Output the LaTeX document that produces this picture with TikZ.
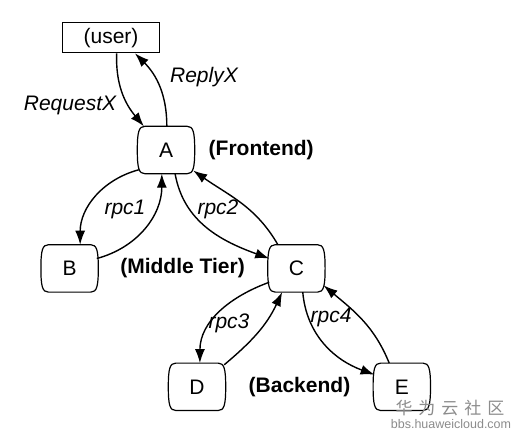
\documentclass[tikz,border=0pt]{standalone}
\usepackage{fontspec}
\setmainfont{Liberation Sans}
\newfontfamily\cjkfont{Noto Sans CJK SC}
\usepackage{tikz}
\usetikzlibrary{arrows.meta, positioning}
\tikzstyle{pointer} = [line width=1.4pt, -{Latex[length=14pt, width=10pt]}]

\begin{document}
\begin{tikzpicture}[
	x=1pt, y=1pt,
	font=\fontsize{21}{24}\selectfont,
	tiernode/.style={minimum width=54pt, minimum height=47pt, inner sep=0pt},
	tierborder/.style={line width=1.2pt},
	usernode/.style={draw, line width=1.1pt, minimum width=97pt, minimum height=30pt, inner sep=0pt},
	calllabel/.style={font=\fontsize{21}{24}\selectfont\itshape},
	tierlabel/.style={font=\fontsize{21}{24}\selectfont\bfseries},
	watermark/.style={text=black!45, inner sep=0pt}
]
\useasboundingbox (0,0) rectangle (518,-439);

\node[tiernode] (A) at (166,-150) {A};
\node[usernode, above=73pt of A, xshift=-55pt] (user) {(user)};
\node[tiernode, below left=71pt and 42pt of A] (B) {B};
\node[tiernode, below right=71pt and 76pt of A] (C) {C};
\node[tiernode, below left=71pt and 45pt of C] (D) {D};
\node[tiernode, below right=71pt and 51pt of C] (E) {E};

% boxes with slightly bulging sides
\foreach \n in {A,B,C,D,E}
	\draw[tierborder] ([xshift=6pt]\n.north west) -- ([xshift=-6pt]\n.north east)
		.. controls ([xshift=0pt]\n.north east) and ([xshift=1.5pt,yshift=18pt]\n.east) .. ([xshift=1.5pt]\n.east)
		.. controls ([xshift=1.5pt,yshift=-18pt]\n.east) and ([xshift=0pt]\n.south east) .. ([xshift=-6pt]\n.south east)
		-- ([xshift=6pt]\n.south west)
		.. controls ([xshift=0pt]\n.south west) and ([xshift=-1.5pt,yshift=-18pt]\n.west) .. ([xshift=-1.5pt]\n.west)
		.. controls ([xshift=-1.5pt,yshift=18pt]\n.west) and ([xshift=0pt]\n.north west) .. cycle;

\node[tierlabel, right=12pt of A] (front) {(Frontend)};
\node[tierlabel, right=20pt of B] (middle) {(Middle Tier)};
\node[tierlabel, right=21pt of D] (back) {(Backend)};

\node[calllabel] (req) at (70,-105) {RequestX};
\node[calllabel] (rep) at (204,-77) {ReplyX};
\node[calllabel] (rpc1) at (125,-209) {rpc1};
\node[calllabel] (rpc2) at (218,-209) {rpc2};
\node[calllabel] (rpc3) at (229,-323) {rpc3};
\node[calllabel] (rpc4) at (331,-317) {rpc4};

\draw[pointer] (user.290) to[out=-92, in=130] (A.133);
\draw[pointer] (A.88) to[out=90, in=-45] (user.327);
\draw[pointer] (A.216) to[out=195, in=90] (B.66);
\draw[pointer] (B.20) to[out=15, in=-90] (A.260);
\draw[pointer] (A.291) to[out=-80, in=160] (C.160);
\draw[pointer] (C.128) to[out=120, in=-35] (A.-37);
\draw[pointer] (C.207) to[out=200, in=90] (D.83);
\draw[pointer] (D.39) to[out=40, in=-115] (C.239);
\draw[pointer] (C.285) to[out=-85, in=160] (E.156);
\draw[pointer] (E.118) to[out=112, in=-40] (C.-32);

% watermark
\node[watermark, font=\cjkfont\fontsize{17}{19}\selectfont] (wmcn) at (450,-408) {华\hspace{6pt}为\hspace{6pt}云\hspace{6pt}社\hspace{6pt}区};
\node[watermark, font=\fontsize{12.5}{14}\selectfont] (wmurl) at (451,-424) {bbs.huaweicloud.com};

\end{tikzpicture}
\end{document}
